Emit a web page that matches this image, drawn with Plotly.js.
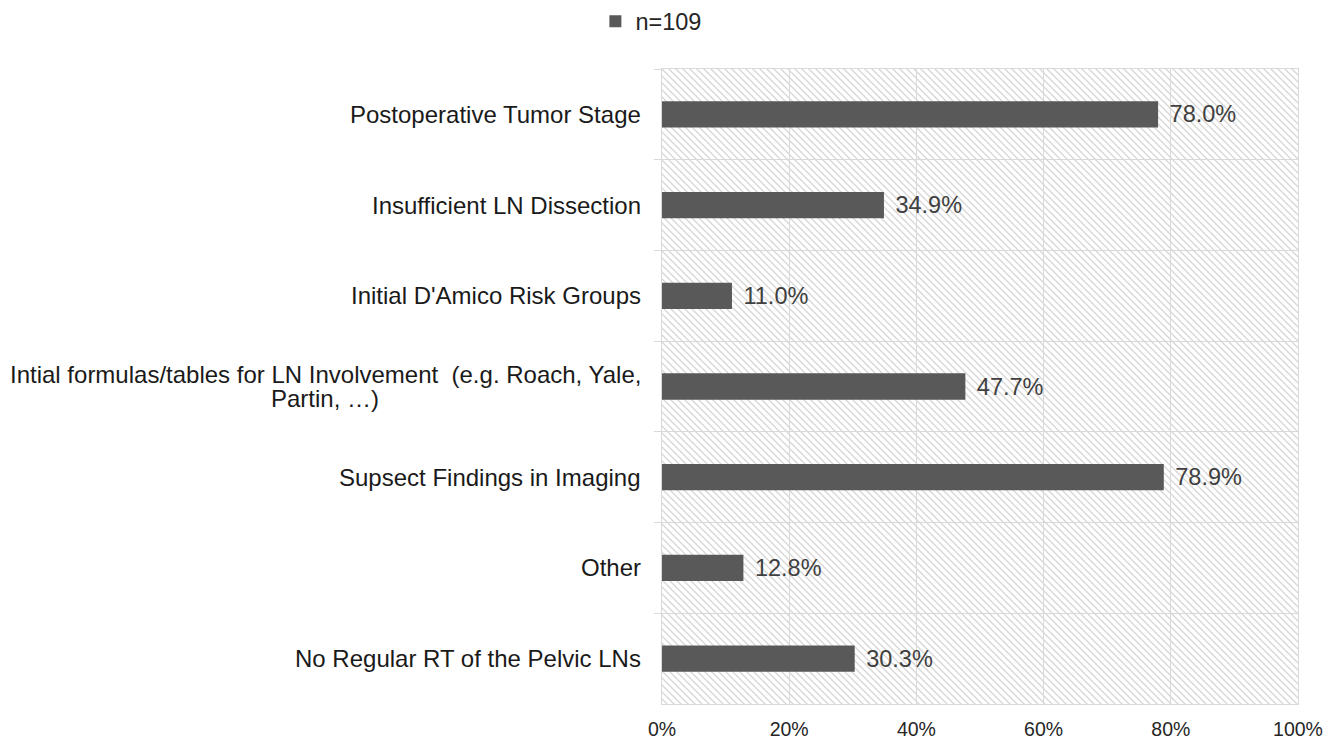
<!DOCTYPE html>
<html>
<head>
<meta charset="utf-8">
<script src="https://cdn.plot.ly/plotly-3.0.1.min.js"></script>
<style>html,body{margin:0;padding:0;background:#fff;}#chart{width:1338px;height:739px;}</style>
</head>
<body>
<div id="chart"></div>
<script>
const categories = [
  "Postoperative Tumor Stage",
  "Insufficient LN Dissection",
  "Initial D'Amico Risk Groups",
  "Intial formulas/tables for LN Involvement  (e.g. Roach, Yale,<br>Partin, …)",
  "Supsect Findings in Imaging",
  "Other",
  "No Regular RT of the Pelvic LNs"
];
const values = [78.0, 34.9, 11.0, 47.7, 78.9, 12.8, 30.3];
const seriesName = "n=109";
const xTicks = [0, 20, 40, 60, 80, 100];
const xTickLabels = xTicks.map(v => v + '%');

const FONT = '"Liberation Sans", Arial, sans-serif';
const CAT_SIZE = 24;
const LINE_GAP = 24;

const hatchSvg =
  '<svg xmlns="http://www.w3.org/2000/svg" width="636" height="635">' +
  '<defs><pattern id="h" patternUnits="userSpaceOnUse" width="7" height="7">' +
  '<path d="M-1,-1 L8,8 M-1,6 L1,8 M6,-1 L8,1" stroke="#d6d6d6" stroke-width="1.3"/>' +
  '</pattern></defs><rect width="636" height="635" fill="#fff"/><rect width="636" height="635" fill="url(#h)"/></svg>';
const hatchUri = 'data:image/svg+xml;base64,' + btoa(hatchSvg);

const trace = {
  type: 'bar',
  orientation: 'h',
  name: seriesName,
  y: categories,
  x: values,
  marker: {color: '#595959'},
  texttemplate: '\u00a0\u200a%{x:.1f}%',
  textposition: 'outside',
  constraintext: 'none',
  cliponaxis: false,
  textfont: {family: FONT, size: 23.5, color: '#404040'},
  hoverinfo: 'skip'
};

// category labels: lines centred on each other, tight line spacing
const ctx = document.createElement('canvas').getContext('2d');
ctx.font = CAT_SIZE + 'px "Liberation Sans", Arial, sans-serif';
const annotations = [];
categories.forEach(c => {
  const lines = c.split('<br>');
  const widths = lines.map(l => ctx.measureText(l).width);
  const maxW = Math.max(...widths);
  lines.forEach((l, i) => {
    const yshift = ((lines.length - 1) / 2 - i) * LINE_GAP;
    annotations.push({
      xref: 'paper', yref: 'y', x: 0, y: c,
      xshift: -21 - maxW / 2, yshift: yshift,
      xanchor: 'center', yanchor: 'middle', align: 'center',
      text: l, showarrow: false,
      font: {family: FONT, size: CAT_SIZE, color: '#1a1a1a'}
    });
  });
});

const layout = {
  width: 1338, height: 739,
  margin: {l: 662, r: 40, t: 69, b: 35, autoexpand: false},
  paper_bgcolor: '#ffffff',
  plot_bgcolor: 'rgba(0,0,0,0)',
  font: {family: FONT, color: '#404040'},
  bargap: 0.71,
  showlegend: true,
  legend: {
    orientation: 'h', x: -0.0167, xanchor: 'center', y: 1.075, yanchor: 'middle',
    font: {family: FONT, size: 23.5, color: '#262626'}
  },
  xaxis: {
    range: [0, 100], tickvals: xTicks, ticktext: xTickLabels,
    showgrid: true, gridcolor: '#d9d9d9', gridwidth: 1,
    showline: true, mirror: true, linecolor: '#d9d9d9', linewidth: 1,
    zeroline: false, ticks: '', fixedrange: true, ticklabelstandoff: 8,
    tickfont: {family: FONT, size: 19.5, color: '#262626'}
  },
  yaxis: {
    type: 'category', autorange: 'reversed',
    tickson: 'boundaries', showgrid: true, gridcolor: '#d9d9d9', gridwidth: 1,
    showline: true, mirror: true, linecolor: '#d9d9d9', linewidth: 1,
    ticks: 'outside', ticklen: 7, tickcolor: '#d9d9d9',
    showticklabels: false, fixedrange: true
  },
  images: [{
    source: hatchUri, xref: 'paper', yref: 'paper', x: 0, y: 1,
    sizex: 1, sizey: 1, xanchor: 'left', yanchor: 'top',
    sizing: 'stretch', layer: 'below'
  }],
  annotations: annotations
};

Plotly.newPlot('chart', [trace], layout, {displayModeBar: false, staticPlot: true});
</script>
</body>
</html>
